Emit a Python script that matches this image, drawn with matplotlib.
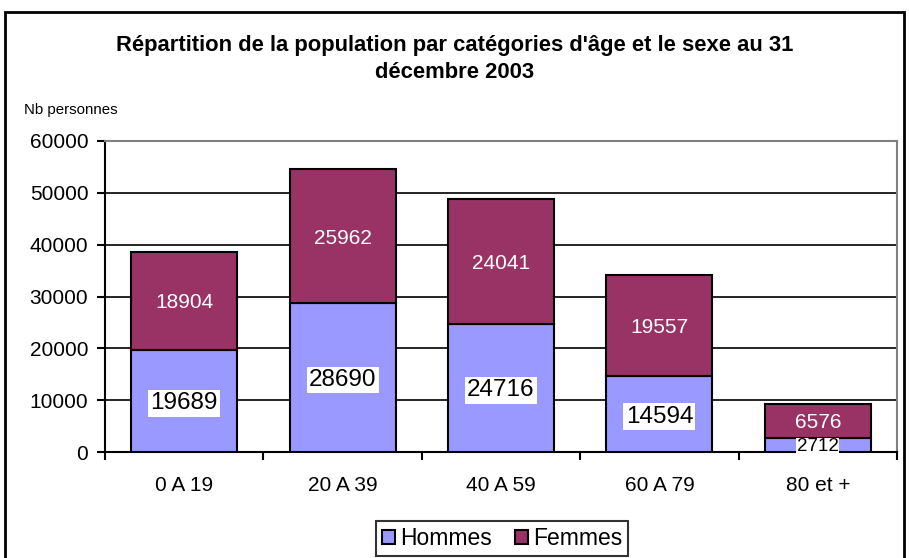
import matplotlib.pyplot as plt
from matplotlib.patches import Rectangle

categories = ["0 A 19", "20 A 39", "40 A 59", "60 A 79", "80 et +"]
hommes = [19689, 28690, 24716, 14594, 2712]
femmes = [18904, 25962, 24041, 19557, 6576]
yticks = [0, 10000, 20000, 30000, 40000, 50000, 60000]

col_h = '#9999FF'
col_f = '#993366'

plt.rcParams['font.family'] = ['Liberation Sans', 'DejaVu Sans']

fig = plt.figure(figsize=(9.09, 5.58), dpi=100)
# outer chart border
fig.patches.append(Rectangle((5 / 909, -0.01), 899 / 909, 1 - 12 / 558 + 0.01,
                             transform=fig.transFigure, fill=False,
                             edgecolor='black', linewidth=2))

ax = fig.add_axes([105 / 909, 1 - 452 / 558, (897 - 105) / 909, (452 - 141) / 558])

x = list(range(len(categories)))
bh = ax.bar(x, hommes, width=0.67, color=col_h, edgecolor='black', linewidth=1.5,
            label='Hommes', zorder=3)
bf = ax.bar(x, femmes, width=0.67, bottom=hommes, color=col_f, edgecolor='black',
            linewidth=1.5, label='Femmes', zorder=3)

# labels
for i in x:
    if hommes[i] < 5000:
        ax.text(i, hommes[i] / 2, str(hommes[i]), ha='center', va='center_baseline',
                fontsize=13.5,
                bbox=dict(facecolor='white', edgecolor='none', pad=0.5), zorder=4)
    else:
        ax.text(i, hommes[i] / 2, str(hommes[i]), ha='center', va='center_baseline',
                fontsize=17.5,
                bbox=dict(facecolor='white', edgecolor='none', pad=1.5), zorder=4)
    ax.text(i, hommes[i] + femmes[i] / 2, str(femmes[i]), ha='center',
            va='center_baseline', fontsize=15, color='white', zorder=4)

ax.set_xlim(-0.5, 4.5)
ax.set_ylim(0, 60000)
ax.set_yticks(yticks)
ax.set_yticklabels([str(v) for v in yticks], fontsize=15)
ax.yaxis.grid(True, color='black', linewidth=1.2, zorder=0)
ax.set_axisbelow(True)
ax.set_xticks(x)
ax.set_xticklabels(categories, fontsize=15)
ax.tick_params(axis='x', length=0, pad=17)
ax.tick_params(axis='y', length=6, width=1.5, direction='out', pad=6)
# separator ticks between categories
ax.set_xticks([-0.5 + k for k in range(6)], minor=True)
ax.tick_params(axis='x', which='minor', length=6, width=1.5, direction='out')

ax.spines['left'].set_linewidth(1.5)
ax.spines['bottom'].set_linewidth(1.5)
ax.spines['top'].set_color('gray')
ax.spines['right'].set_color('gray')
ax.spines['top'].set_linewidth(1.5)
ax.spines['right'].set_linewidth(1.5)

fig.text(0.5, 1 - 45 / 558, "Répartition de la population par catégories d'âge et le sexe au 31",
         ha='center', va='center', fontsize=15.8, fontweight='bold')
fig.text(0.5, 1 - 72 / 558, "décembre 2003", ha='center', va='center', fontsize=15.8,
         fontweight='bold')
fig.text(24 / 909, 1 - 110 / 558, "Nb personnes", ha='left', va='center', fontsize=10.8)

leg = fig.legend(handles=[bh, bf], labels=['Hommes', 'Femmes'], loc='center',
                 bbox_to_anchor=(502 / 909, 1 - 538.5 / 558), ncol=2, fontsize=16.5,
                 frameon=True, fancybox=False, edgecolor='black', handlelength=0.6,
                 handleheight=0.6, handletextpad=0.2, columnspacing=1.0,
                 borderpad=0.25, borderaxespad=0)
leg.get_frame().set_linewidth(1.5)

fig.savefig('out.png', dpi=100)
